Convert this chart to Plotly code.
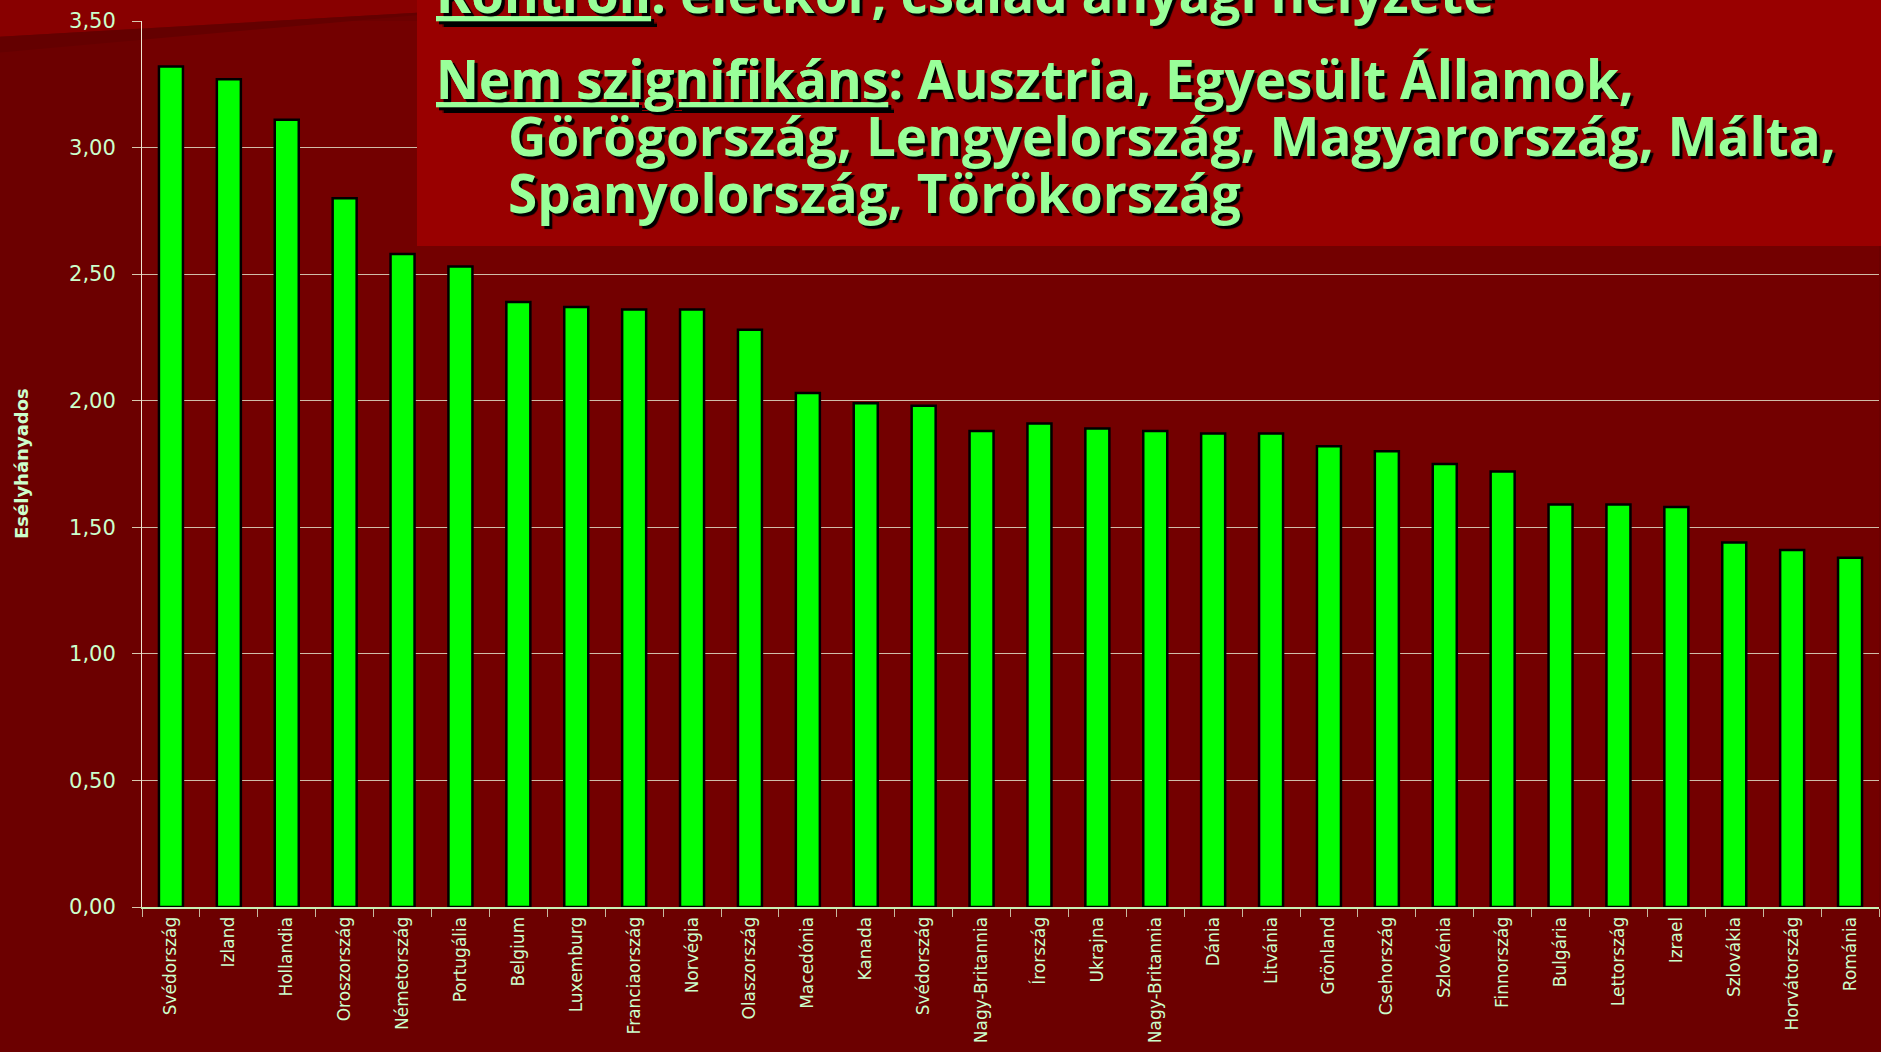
import plotly.graph_objects as go

# ---------------- data ----------------
countries = ["Svédország", "Izland", "Hollandia", "Oroszország", "Németország",
             "Portugália", "Belgium", "Luxemburg", "Franciaország", "Norvégia",
             "Olaszország", "Macedónia", "Kanada", "Svédország", "Nagy-Britannia",
             "Írország", "Ukrajna", "Nagy-Britannia", "Dánia", "Litvánia",
             "Grönland", "Csehország", "Szlovénia", "Finnország", "Bulgária",
             "Lettország", "Izrael", "Szlovákia", "Horvátország", "Románia"]
odds_ratio = [3.32, 3.27, 3.11, 2.80, 2.58, 2.53, 2.39, 2.37, 2.36, 2.36,
              2.28, 2.03, 1.99, 1.98, 1.88, 1.91, 1.89, 1.88, 1.87, 1.87,
              1.82, 1.80, 1.75, 1.72, 1.59, 1.59, 1.58, 1.44, 1.41, 1.38]
y_ticks = [0.0, 0.5, 1.0, 1.5, 2.0, 2.5, 3.0, 3.5]
y_title = "Esélyhányados"
text_lines = [
    "<u>Kontroll</u>: életkor, család anyagi helyzete",
    "<u>Nem szignifikáns</u>: Ausztria, Egyesült Államok,",
    "Görögország, Lengyelország, Magyarország, Málta,",
    "Spanyolország, Törökország",
]

# ---------------- geometry (pixels) ----------------
FIG_W, FIG_H = 1881, 1052
L, R, T, B = 142, 1879, 21, 907
W, H = R - L, B - T


def px_x(p):
    return (p - L) / W


def px_y(p):
    return (B - p) / H


TEXT_COLOR = "#99FF99"
LABEL_COLOR = "#CCFFCC"

x_idx = list(range(len(countries)))

fig = go.Figure()
fig.add_trace(go.Bar(
    x=x_idx, y=odds_ratio,
    marker=dict(color="#00FF00", line=dict(color="#000000", width=2.5)),
    hoverinfo="skip",
))

shapes = [
    # lighter decorative band at the top left
    dict(type="path", xref="paper", yref="paper", layer="below",
         path=f"M {px_x(-5)},{px_y(-5)} L {px_x(430)},{px_y(-5)} L {px_x(430)},{px_y(12)} L {px_x(-5)},{px_y(37)} Z",
         fillcolor="#880000", line=dict(width=0)),
    # darker stripe under it
    dict(type="path", xref="paper", yref="paper", layer="below",
         path=f"M {px_x(-5)},{px_y(37)} L {px_x(430)},{px_y(12)} L {px_x(430)},{px_y(14)} L {px_x(-5)},{px_y(53)} Z",
         fillcolor="#640000", line=dict(width=0)),
    # text box
    dict(type="rect", xref="paper", yref="paper", layer="above",
         x0=px_x(417), x1=px_x(1895), y0=px_y(246), y1=px_y(-20),
         fillcolor="#990000", line=dict(width=0)),
]

annotations = []
line_pos = [(434, 8), (434, 94), (506, 151), (506, 208)]
FS = 53
for txt, (xp, base) in zip(text_lines, line_pos):
    annotations.append(dict(
        text=txt, xref="paper", yref="paper",
        x=px_x(xp), y=px_y(base - 0.3 * FS),
        xanchor="left", yanchor="middle", showarrow=False,
        font=dict(family="Open Sans", size=FS, color=TEXT_COLOR, weight="bold",
                  shadow="3px 3px 1px #000000"),
    ))
annotations.append(dict(
    text=y_title, xref="paper", yref="paper", x=px_x(21), y=0.5,
    xanchor="center", yanchor="middle", textangle=-90, showarrow=False,
    font=dict(family="DejaVu Sans", size=18, color=LABEL_COLOR, weight="bold"),
))

fig.update_layout(
    width=FIG_W, height=FIG_H,
    margin=dict(l=L, r=FIG_W - R, t=T, b=FIG_H - B, pad=0),
    paper_bgcolor="#6C0000", plot_bgcolor="#730000",
    bargap=0.585, showlegend=False,
    separators=", ",
    shapes=shapes, annotations=annotations,
    xaxis=dict(
        range=[-0.5, len(countries) - 0.5],
        tickmode="array", tickvals=x_idx, ticktext=countries,
        tickangle=-90, ticks="", showgrid=False, zeroline=False,
        showline=True, linecolor="#C8F0B4", linewidth=2,
        tickfont=dict(family="DejaVu Sans", size=17, color=LABEL_COLOR),
        ticklabelstandoff=1,
        minor=dict(tickmode="linear", tick0=0.5, dtick=1, ticks="outside",
                   ticklen=8, tickcolor="#C8B8A0", tickwidth=1, showgrid=False),
    ),
    yaxis=dict(
        range=[0, 3.5], tickmode="array", tickvals=y_ticks, tickformat=".2f",
        ticks="outside", ticklen=9, tickcolor="#D8C8B0",
        showgrid=True, gridcolor="#D0BCA8", gridwidth=1,
        showline=True, linecolor="#F0E6D0", linewidth=1, zeroline=False,
        tickfont=dict(family="DejaVu Sans", size=21, color=LABEL_COLOR),
        ticklabelstandoff=12,
    ),
)

fig.write_html("out.html", config={"displayModeBar": False},
               post_script="document.body.style.margin='0';document.body.style.background='#6C0000';")
